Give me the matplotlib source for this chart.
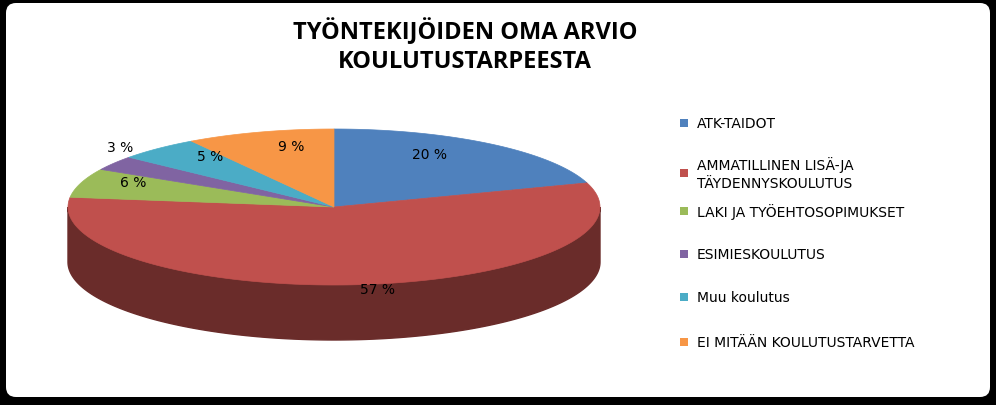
import numpy as np
import matplotlib.pyplot as plt
from matplotlib.patches import Polygon, FancyBboxPatch
from matplotlib.colors import to_rgb

# Data
categories = ["ATK-TAIDOT", "AMMATILLINEN LISÄ-JA\nTÄYDENNYSKOULUTUS",
              "LAKI JA TYÖEHTOSOPIMUKSET", "ESIMIESKOULUTUS",
              "Muu koulutus", "EI MITÄÄN KOULUTUSTARVETTA"]
values = [20, 57, 6, 3, 5, 9]
colors = ["#4F81BD", "#C0504D", "#9BBB59", "#8064A2", "#4BACC6", "#F79646"]
title = "TYÖNTEKIJÖIDEN OMA ARVIO\nKOULUTUSTARPEESTA"

# pie geometry in pixels (y down)
cx, cy, rx, ry, depth = 334, 208, 266, 78, 55

fig = plt.figure(figsize=(9.96, 4.06), dpi=100, facecolor="black")
ax = fig.add_axes([0, 0, 1, 1])
ax.set_xlim(0, 996)
ax.set_ylim(406, 0)
ax.axis("off")
ax.add_patch(FancyBboxPatch((6, 4), 984, 394, boxstyle="round,pad=0,rounding_size=10",
                            facecolor="white", edgecolor="none"))


def pt(t, dy=0):
    return cx + rx * np.sin(t), cy - ry * np.cos(t) + dy


fr = np.array(values) / sum(values)
bounds = np.concatenate([[0], np.cumsum(fr)]) * 2 * np.pi

# side walls (front half only)
for i, col in enumerate(colors):
    a, b = max(bounds[i], np.pi / 2), min(bounds[i + 1], 3 * np.pi / 2)
    if b <= a:
        continue
    t = np.linspace(a, b, 200)
    top = [pt(v) for v in t]
    bot = [pt(v, depth) for v in t[::-1]]
    dark = tuple(c * 0.55 for c in to_rgb(col))
    ax.add_patch(Polygon(top + bot, closed=True, facecolor=dark, edgecolor=dark))

# top faces
for i, col in enumerate(colors):
    t = np.linspace(bounds[i], bounds[i + 1], 200)
    pts = [(cx, cy)] + [pt(v) for v in t]
    ax.add_patch(Polygon(pts, closed=True, facecolor=col, edgecolor=col, lw=0.5))

# percentage labels
label_pos = [(430, 155), (378, 290), (133, 183), (120, 148), (210, 157), (291, 147)]
for v, (x, y) in zip(values, label_pos):
    ax.text(x, y, f"{v} %", ha="center", va="center", fontsize=10)

ax.text(465, 46, title, ha="center", va="center", fontsize=17, fontweight="bold",
        linespacing=1.25, family="Open Sans")

# legend
leg_y = [124, 174, 212, 255, 298, 343]
for lab, col, y in zip(categories, colors, leg_y):
    ax.add_patch(plt.Rectangle((680, y - 4), 8, 8, facecolor=col, edgecolor="none"))
    ax.text(697, y, lab, ha="left", va="center", fontsize=10, linespacing=1.3)

fig.savefig("out.png", dpi=100, facecolor="black")
